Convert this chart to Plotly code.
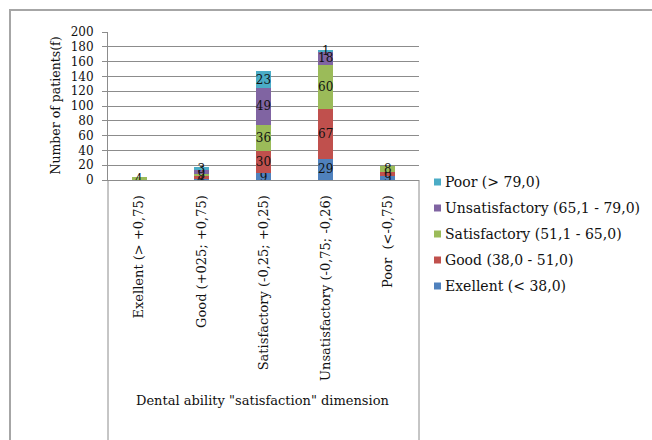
import plotly.graph_objects as go

# Dental ability "satisfaction" dimension groups (x axis)
categories = [
    "Exellent (> +0,75)",
    "Good (+025; +0,75)",
    "Satisfactory (-0,25; +0,25)",
    "Unsatisfactory (-0,75; -0,26)",
    "Poor  (<-0,75)",
]

# Number of patients per score band, stacked bottom to top
exellent = [0, 1, 9, 29, 5]
good = [0, 4, 30, 67, 6]
satisfactory = [4, 3, 36, 60, 8]
unsatisfactory = [0, 6, 49, 18, 0]
poor = [0, 3, 23, 1, 0]

series_names = [
    "Exellent (< 38,0)",
    "Good (38,0 - 51,0)",
    "Satisfactory (51,1 - 65,0)",
    "Unsatisfactory (65,1 - 79,0)",
    "Poor (> 79,0)",
]
series_values = [exellent, good, satisfactory, unsatisfactory, poor]
series_colors = ["#4F81BD", "#C0504D", "#9BBB59", "#8064A2", "#4BACC6"]

y_ticks = list(range(0, 201, 20))

FONT = "DejaVu Serif"
GRID = "#8c8c8c"
INK = "#111"

fig = go.Figure()
for name, vals, col in zip(series_names, series_values, series_colors):
    fig.add_trace(go.Bar(
        x=categories, y=vals, name=name,
        marker=dict(color=col, line=dict(width=0)),
        text=[str(v) for v in vals],
        textposition="inside", insidetextanchor="middle",
        textangle=0,
        textfont=dict(family=FONT, size=12, color=INK),
        showlegend=False,
    ))

W, H = 652, 440
L, R, T, B = 108, 233, 32, 260
pw, ph = W - L - R, H - T - B

def px(x):
    return (x - L) / pw

def py(y):
    return (H - B - y) / ph

fig.update_layout(
    width=W, height=H,
    margin=dict(l=L, r=R, t=T, b=B),
    paper_bgcolor="white", plot_bgcolor="white",
    barmode="stack", bargap=0.76,
    font=dict(family=FONT, size=12, color=INK),
    uniformtext=dict(minsize=12, mode="show"),
    showlegend=False,
    xaxis=dict(
        type="category", tickangle=-90, showgrid=False,
        showline=True, linecolor=GRID, linewidth=1,
        ticks="", ticklabelstandoff=9,
        tickfont=dict(family=FONT, size=13, color=INK),
    ),
    yaxis=dict(
        range=[0, 200], tickvals=y_ticks,
        showgrid=True, gridcolor=GRID, gridwidth=1,
        showline=True, linecolor=GRID, linewidth=1,
        ticks="outside", ticklen=5, tickcolor=GRID,
        ticklabelstandoff=6,
        tickfont=dict(family=FONT, size=12, color=INK),
        zeroline=False,
    ),
)

# outer chart border
fig.add_shape(type="rect", xref="paper", yref="paper",
              x0=px(10), x1=px(700), y0=py(500), y1=py(10),
              line=dict(color="#a6a6a6", width=2), layer="below")
# frame around the category label area
for xe in (0, 1):
    fig.add_shape(type="line", xref="paper", yref="paper",
                  x0=xe, x1=xe, y0=py(180), y1=py(445),
                  line=dict(color=GRID, width=1))

# legend: small swatches with labels, top entry is the last series
for i, (name, col) in enumerate(zip(reversed(series_names), reversed(series_colors))):
    yc = 182 + 26 * i
    fig.add_shape(type="rect", xref="paper", yref="paper",
                  x0=px(434), x1=px(441), y0=py(yc + 3.5), y1=py(yc - 3.5),
                  fillcolor=col, line=dict(width=0))
    fig.add_annotation(text=name, xref="paper", yref="paper",
                       x=px(443), y=py(yc), xanchor="left", yanchor="middle",
                       showarrow=False,
                       font=dict(family=FONT, size=14, color=INK))

# axis titles
fig.add_annotation(text="Number of patients(f)", xref="paper", yref="paper",
                   x=px(45), y=0.5, textangle=-90, showarrow=False,
                   font=dict(family=FONT, size=12.5, color=INK))
fig.add_annotation(text='Dental ability "satisfaction" dimension',
                   xref="paper", yref="paper", x=px(263), y=py(410),
                   showarrow=False,
                   font=dict(family=FONT, size=13, color=INK))

fig.write_html("out.html")
